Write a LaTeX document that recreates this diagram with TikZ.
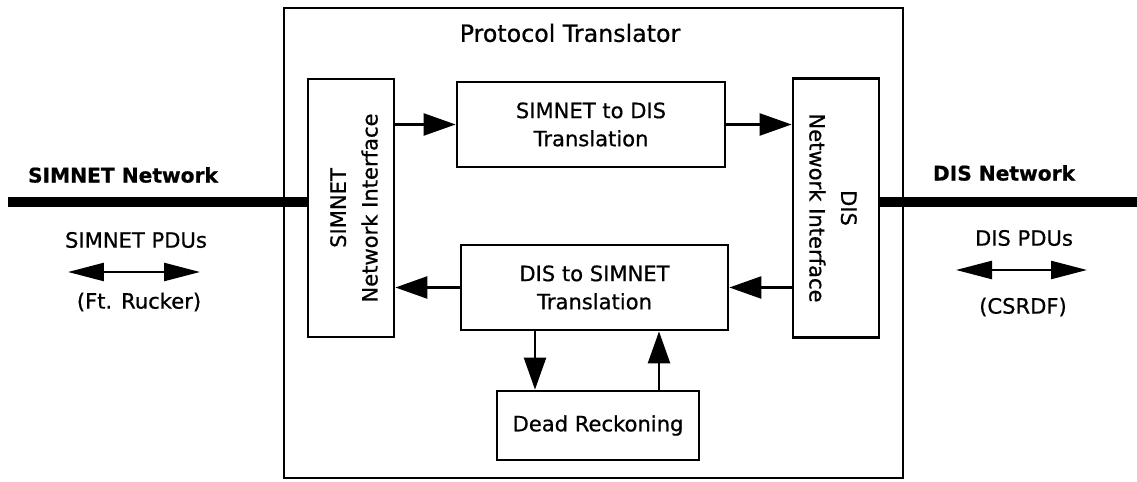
\documentclass[tikz,border=0pt]{standalone}
\usepackage{fontspec}
\setmainfont{DejaVu Sans}[RawFeature={embolden=0.7}]
\usetikzlibrary{arrows.meta}
\begin{document}
\begin{tikzpicture}[x=0.02cm,y=-0.02cm,
  box/.style={draw,line width=1.6pt,inner sep=0pt},
  txt/.style={inner sep=1pt,align=center,font=\fontsize{12}{16}\selectfont},
  nettxt/.style={inner sep=1pt,font=\bfseries\fontsize{11.5}{14}\selectfont},
  link/.style={line width=1.4pt,-{Triangle[length=0.64cm,width=0.44cm]}},
  pdu/.style={line width=1.4pt,{Triangle[length=0.72cm,width=0.36cm]}-{Triangle[length=0.72cm,width=0.36cm]}},
  netline/.style={line width=6.2pt}]
\useasboundingbox (0,0) rectangle (1137,482);
\node[box,minimum width=12.38cm,minimum height=9.4cm] (pt) at (593.5,243) {};
\node[txt,font=\fontsize{13.5}{16}\selectfont] (pttitle) at (570,33) {Protocol Translator};
\node[box,minimum width=1.72cm,minimum height=5.16cm] (sni) at (351,208) {};
\node[txt,rotate=90,font=\fontsize{12}{18}\selectfont] (snitxt) at (354,208) {SIMNET\\Network Interface};
\node[box,minimum width=1.72cm,minimum height=5.18cm] (dni) at (836,208) {};
\node[txt,rotate=-90,font=\fontsize{12}{18}\selectfont] (dnitxt) at (833,208) {DIS\\Network Interface};
\node[box,txt,minimum width=5.36cm,minimum height=1.7cm] (s2d) at (591,124.5) {SIMNET to DIS\\Translation};
\node[box,txt,minimum width=5.34cm,minimum height=1.7cm] (d2s) at (594.5,287.5) {DIS to SIMNET\\Translation};
\node[box,txt,minimum width=4.04cm,minimum height=1.38cm] (dr) at (598,425.5) {Dead Reckoning};
\node[nettxt] (snetlbl) at (123,175) {SIMNET Network};
\node[nettxt] (dnetlbl) at (1004,173) {DIS Network};
\node[txt] (spdu) at (136,240) {SIMNET PDUs};
\node[txt] (srucker) at (139,302) {(Ft. Rucker)};
\node[txt] (dpdu) at (1024,238) {DIS PDUs};
\node[txt] (dcsrdf) at (1023,307) {(CSRDF)};
\coordinate (snet) at (8,202);
\coordinate (dnet) at (1137,202);
\coordinate (spduw) at (68,272);
\coordinate (spdue) at (200,272);
\coordinate (dpduw) at (956,270);
\coordinate (dpdue) at (1087,270);
\draw[netline] (snet) to (snet -| sni.west);
\draw[netline] (dnet -| dni.east) to (dnet);
\draw[pdu] (spduw) to (spdue);
\draw[pdu] (dpduw) to (dpdue);
\draw[link] (sni.east |- s2d.west) to (s2d.west);
\draw[link] (s2d.east) to (s2d.east -| dni.west);
\draw[link] (dni.west |- d2s.east) to (d2s.east);
\draw[link] (d2s.west) to (d2s.west -| sni.east);
\draw[link] (d2s.south -| 535,0) to (dr.north -| 535,0);
\draw[link] (dr.north -| 659,0) to (d2s.south -| 659,0);
\end{tikzpicture}
\end{document}
